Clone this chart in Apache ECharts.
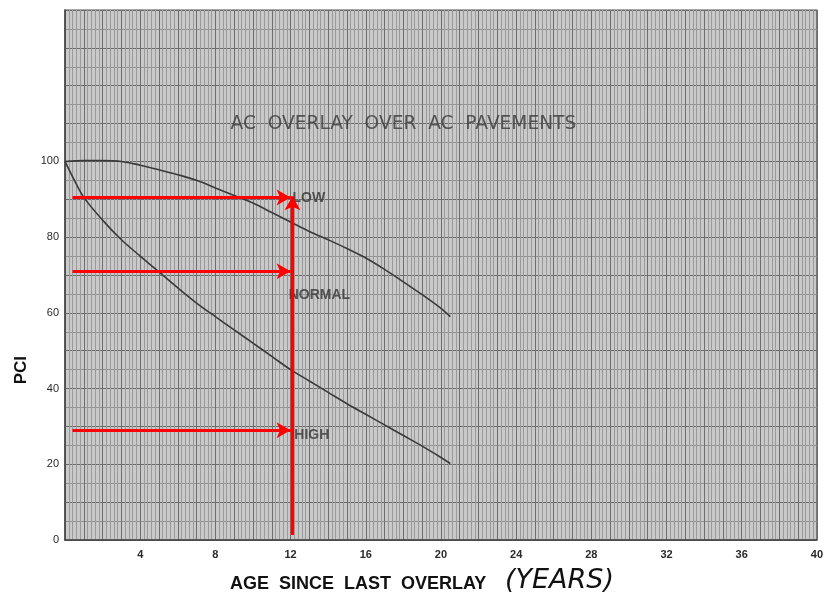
<!DOCTYPE html>
<html>
<head>
<meta charset="utf-8">
<script src="https://cdn.jsdelivr.net/npm/echarts@6/dist/echarts.min.js"></script>
<style>html,body{margin:0;padding:0;background:#fff}#c{width:826px;height:604px}</style>
</head>
<body>
<div id="c"></div>
<script>
// Ages (years) and PCI values
var lowAge    = [0, 1, 2, 3, 4, 5, 6, 7, 8, 9, 10, 11, 12, 13, 14, 15, 16, 17, 18, 19, 20, 20.5];
var lowPCI    = [100, 100.2, 100.2, 100, 99, 97.8, 96.5, 95, 93, 91, 89, 86.5, 84, 81.5, 79.3, 77, 74.5, 71.5, 68.2, 64.8, 61.2, 59];
var highAge   = [0, 0.5, 1, 2, 3, 4, 5, 6, 7, 8, 9, 10, 11, 12, 13, 14, 15, 16, 17, 18, 19, 20, 20.5];
var highPCI   = [100, 95, 90.5, 84.5, 79.3, 75, 70.8, 66.6, 62.6, 59, 55.5, 52, 48.5, 45, 42, 39, 36, 33.2, 30.4, 27.6, 24.8, 21.8, 20.2];
var xTickLabels = [4, 8, 12, 16, 20, 24, 28, 32, 36, 40];
var yTickLabels = [0, 20, 40, 60, 80, 100];
// Red reading arrows: [fromAge, fromPCI] -> [toAge, toPCI]
var arrowsFrom = [[0.4, 90.5], [0.4, 71], [0.4, 29], [12.1, 1.3]];
var arrowsTo   = [[12.0, 90.5], [12.0, 71], [12.0, 29], [12.1, 90.8]];
// Annotation texts: [age, PCI, text]
var curveLabels = [[12.1, 90.2, 'LOW'], [11.9, 64.8, 'NORMAL'], [12.2, 27.8, 'HIGH']];
var chartTitle  = [18.0, 109.8, 'AC  OVERLAY  OVER  AC  PAVEMENTS'];

function zip(a, b) { return a.map(function (v, i) { return [v, b[i]]; }); }

var chart = echarts.init(document.getElementById('c'), null, {renderer: 'canvas'});
var curveStyle = {color: '#3a3a3a', width: 1.6};
chart.setOption({
  backgroundColor: '#ffffff',
  animation: false,
  grid: {left: 65, right: 8, top: 10, bottom: 64, show: true,
         backgroundColor: '#c9c9c9', borderColor: '#555', borderWidth: 1.2},
  xAxis: {
    type: 'value', min: 0, max: 40, interval: 1,
    axisLine: {show: true, onZero: false, lineStyle: {color: '#444', width: 1.5}},
    axisTick: {show: false},
    axisLabel: {
      margin: 9, color: '#2a2a2a', fontSize: 11, fontWeight: 'bold', fontFamily: 'Liberation Sans',
      formatter: function (v) { return xTickLabels.indexOf(v) >= 0 ? String(v) : ''; }
    },
    splitLine: {show: true, lineStyle: {color: '#6e6e6e', width: 1}},
    minorTick: {show: false, splitNumber: 5},
    minorSplitLine: {show: true, lineStyle: {color: '#9a9a9a', width: 1}}
  },
  yAxis: {
    type: 'value', min: 0, max: 140, interval: 10,
    axisLine: {show: true, onZero: false, lineStyle: {color: '#444', width: 1.5}},
    axisTick: {show: false},
    axisLabel: {
      margin: 6, color: '#2a2a2a', fontSize: 11, fontFamily: 'Liberation Sans',
      formatter: function (v) { return yTickLabels.indexOf(v) >= 0 ? String(v) : ''; }
    },
    splitLine: {show: true, lineStyle: {color: '#6a6a6a', width: 1.1}},
    minorTick: {show: false, splitNumber: 2},
    minorSplitLine: {show: true, lineStyle: {color: '#939393', width: 1}}
  },
  series: [
    {type: 'line', name: 'LOW', data: zip(lowAge, lowPCI), smooth: 0.35, showSymbol: false, lineStyle: curveStyle, z: 3},
    {type: 'line', name: 'HIGH', data: zip(highAge, highPCI), smooth: 0.35, showSymbol: false, lineStyle: curveStyle, z: 3},
    {
      type: 'scatter', symbolSize: 0, z: 4, silent: true,
      data: curveLabels.map(function (d) { return {value: [d[0], d[1]], name: d[2]}; }),
      label: {show: true, position: 'right', distance: 0, formatter: '{b}',
              color: '#363636', fontSize: 14, fontWeight: 'bold', fontFamily: 'Liberation Sans'}
    },
    {
      type: 'scatter', symbolSize: 0, z: 4, silent: true,
      data: [{value: [chartTitle[0], chartTitle[1]], name: chartTitle[2]}],
      label: {show: true, position: 'inside', formatter: '{b}',
              color: '#383838', fontSize: 18.6, fontFamily: 'DejaVu Sans'}
    },
    {
      type: 'line', data: [], z: 5,
      markLine: {
        silent: true, animation: false,
        symbol: ['none', 'arrow'], symbolSize: [12, 14],
        label: {show: false},
        lineStyle: {color: '#ff0000', width: 3, type: 'solid'},
        data: arrowsFrom.map(function (f, i) {
          return [{coord: f}, {coord: arrowsTo[i]}];
        })
      }
    }
  ],
  graphic: [
    {type: 'text', left: 13, top: 356, rotation: Math.PI / 2,
     style: {text: 'PCI', font: 'bold 17px "Liberation Sans"', fill: '#111'}},
    {type: 'text', left: 230, top: 575,
     style: {text: 'AGE  SINCE  LAST  OVERLAY', font: 'bold 18px "Liberation Sans"', fill: '#111'}},
    {type: 'text', left: 505, top: 567,
     style: {text: '(YEARS)', font: 'italic 27px "DejaVu Sans"', fill: '#111'}}
  ]
});
</script>
</body>
</html>
